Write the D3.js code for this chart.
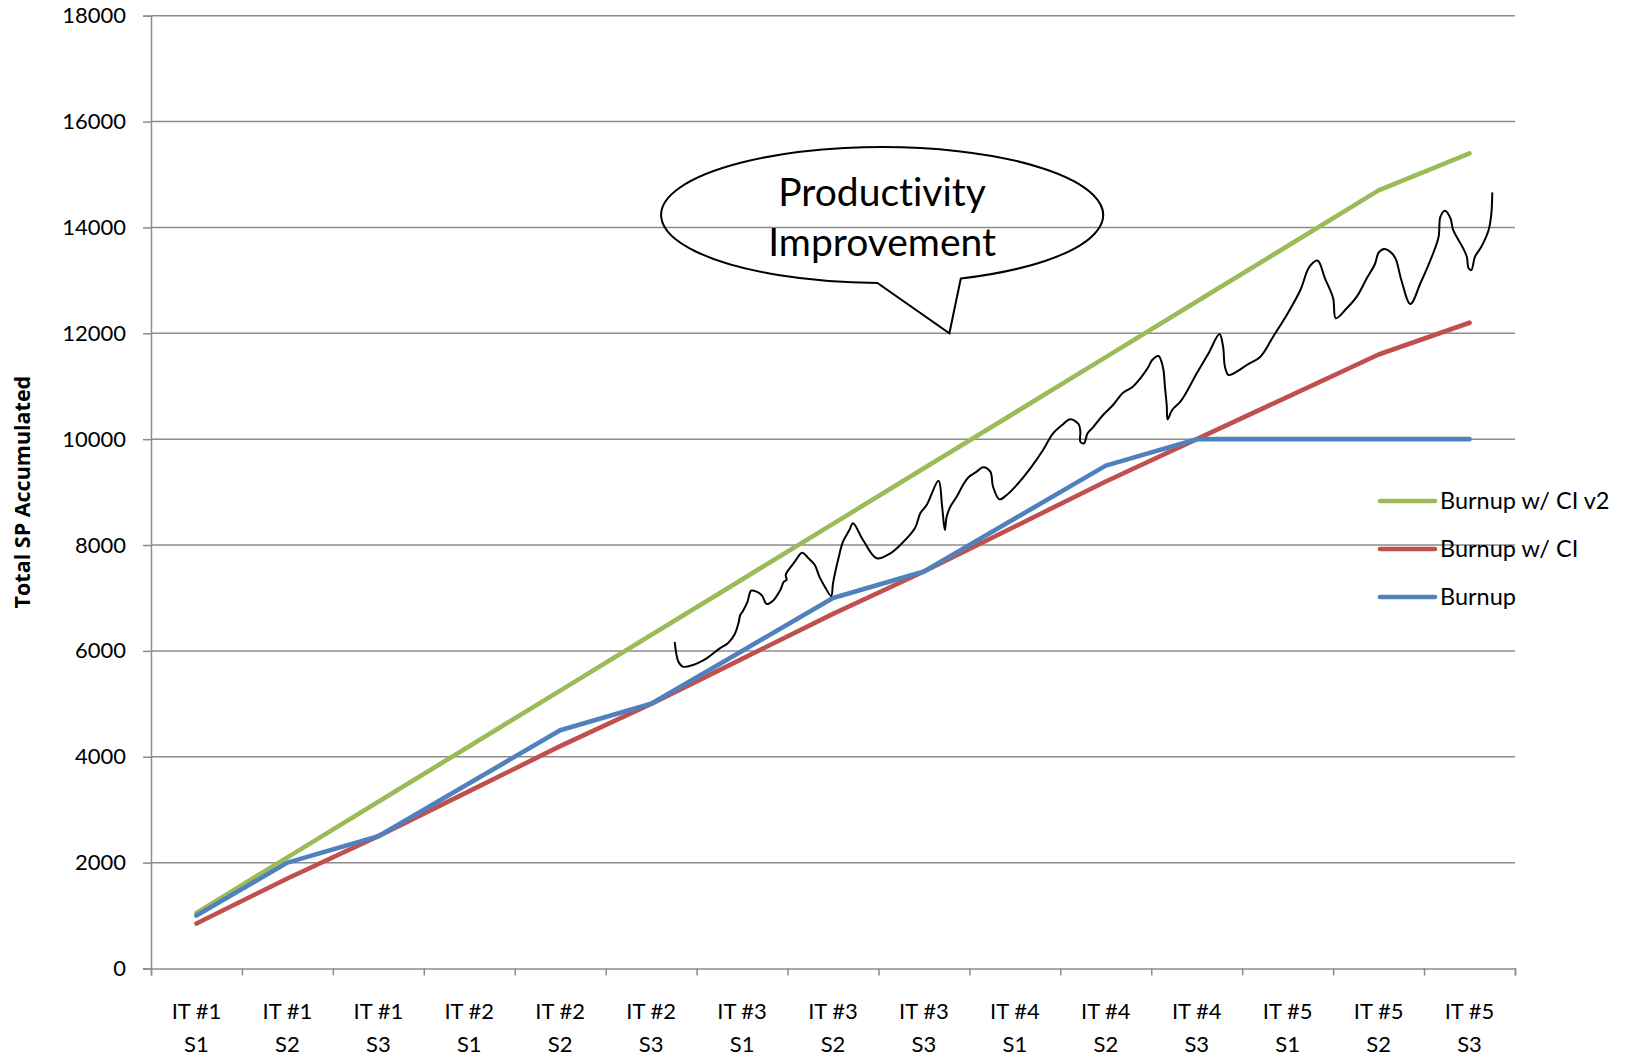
<!DOCTYPE html>
<html>
<head>
<meta charset="utf-8">
<script src="https://cdn.jsdelivr.net/npm/d3@7"></script>
<style>
  html, body { margin: 0; padding: 0; background: #ffffff; }
  svg { display: block; font-family: Lato, "Open Sans", sans-serif; font-variant-ligatures: none; }
</style>
</head>
<body>
<svg id="chart" width="1630" height="1056"></svg>
<script>
// Sprint categories (iteration + sprint)
const categories = [
  "IT #1 S1", "IT #1 S2", "IT #1 S3",
  "IT #2 S1", "IT #2 S2", "IT #2 S3",
  "IT #3 S1", "IT #3 S2", "IT #3 S3",
  "IT #4 S1", "IT #4 S2", "IT #4 S3",
  "IT #5 S1", "IT #5 S2", "IT #5 S3"
];

// Accumulated story points per sprint
const burnupCIv2 = [1050, 2100, 3150, 4200, 5250, 6300, 7350, 8400, 9450, 10500, 11550, 12600, 13650, 14700, 15400];
const burnupCI   = [850, 1700, 2500, 3350, 4200, 5000, 5850, 6700, 7500, 8350, 9200, 10000, 10800, 11600, 12200];
const burnup     = [1000, 2000, 2500, 3500, 4500, 5000, 6000, 7000, 7500, 8500, 9500, 10000, 10000, 10000, 10000];

const yTicks = [0, 2000, 4000, 6000, 8000, 10000, 12000, 14000, 16000, 18000];

// Hand-sketched productivity trend: [sprint position, story points]
const improvementTrend = [
  [5.26, 6155], [5.30, 5796], [5.35, 5702], [5.46, 5734], [5.61, 5860], [5.74, 6030],
  [5.85, 6155], [5.92, 6319], [5.96, 6521], [5.98, 6678], [6.01, 6754], [6.06, 6930],
  [6.10, 7137], [6.16, 7119], [6.22, 7043], [6.27, 6886], [6.34, 6948], [6.42, 7151],
  [6.46, 7307], [6.49, 7340], [6.48, 7434], [6.51, 7528], [6.58, 7685], [6.66, 7855],
  [6.73, 7750], [6.80, 7623], [6.85, 7402], [6.91, 7213], [6.98, 7037], [7.00, 7277],
  [7.06, 7750], [7.11, 8063], [7.18, 8284], [7.22, 8411], [7.33, 8095], [7.48, 7750],
  [7.63, 7844], [7.74, 8001], [7.90, 8316], [7.96, 8600], [8.03, 8756], [8.16, 9215],
  [8.20, 8724], [8.23, 8284], [8.25, 8535], [8.29, 8724], [8.36, 8913], [8.43, 9134],
  [8.49, 9280], [8.58, 9386], [8.65, 9469], [8.73, 9386], [8.76, 9102], [8.83, 8864],
  [8.91, 8945], [9.02, 9134], [9.17, 9450], [9.31, 9796], [9.42, 10111], [9.52, 10268],
  [9.61, 10375], [9.70, 10287], [9.72, 10141], [9.72, 9952], [9.76, 9922], [9.80, 10111],
  [9.86, 10224], [9.97, 10457], [10.08, 10646], [10.19, 10878], [10.29, 10980], [10.38, 11150],
  [10.47, 11369], [10.51, 11496], [10.58, 11571], [10.63, 11345], [10.65, 10991], [10.67, 10646],
  [10.68, 10375], [10.73, 10551], [10.82, 10708], [10.89, 10897], [11.00, 11244], [11.13, 11622],
  [11.25, 11987], [11.29, 11747], [11.31, 11369], [11.35, 11212], [11.44, 11275], [11.55, 11401],
  [11.70, 11558], [11.84, 11936], [11.99, 12346], [12.14, 12818], [12.24, 13258], [12.33, 13372],
  [12.41, 13039], [12.50, 12661], [12.53, 12283], [12.65, 12472], [12.76, 12692], [12.87, 13039],
  [12.96, 13309], [13.00, 13523], [13.06, 13593], [13.14, 13523], [13.19, 13398], [13.25, 13007],
  [13.35, 12554], [13.46, 12945], [13.60, 13512], [13.66, 13825], [13.68, 14203], [13.73, 14316],
  [13.79, 14173], [13.82, 13952], [13.93, 13606], [13.97, 13447], [13.99, 13228], [14.02, 13196],
  [14.06, 13447], [14.13, 13636], [14.21, 13952], [14.24, 14267], [14.25, 14645]
];

const series = [
  { name: "Burnup w/ CI v2", values: burnupCIv2, color: "#9bbb59" },
  { name: "Burnup w/ CI",    values: burnupCI,   color: "#c0504d" },
  { name: "Burnup",          values: burnup,     color: "#4f81bd" }
];

const svg = d3.select("#chart");
const margin = { top: 15.7, right: 115, bottom: 87.5, left: 151 };
const W = 1630, H = 1056;
const plotW = W - margin.left - margin.right;
const plotH = H - margin.top - margin.bottom;
const gridColor = "#8c8c8c";

const g = svg.append("g").attr("transform", `translate(${margin.left},${margin.top})`);

const x = d3.scaleBand().domain(categories).range([0, plotW]).paddingInner(0).paddingOuter(0);
// continuous sprint position, 0 = centre of the first sprint
const xPos = d3.scaleLinear().domain([-0.5, categories.length - 0.5]).range([0, plotW]);
const y = d3.scaleLinear().domain([0, 18000]).range([plotH, 0]);

// horizontal gridlines
g.append("g")
  .selectAll("line")
  .data(yTicks.filter(d => d > 0))
  .join("line")
  .attr("x1", 0).attr("x2", plotW)
  .attr("y1", d => y(d)).attr("y2", d => y(d))
  .attr("stroke", gridColor).attr("stroke-width", 1.5);

// y axis
const yAxis = g.append("g")
  .call(d3.axisLeft(y).tickValues(yTicks).tickSize(8).tickPadding(17).tickFormat(d3.format("d")));
yAxis.select(".domain").attr("stroke", gridColor).attr("stroke-width", 1.5);
yAxis.selectAll(".tick line").attr("stroke", gridColor).attr("stroke-width", 1.5);
yAxis.selectAll(".tick text")
  .attr("font-size", 22).attr("font-family", "Lato, sans-serif").attr("fill", "#000");

// x axis: tick marks on sprint boundaries
const xTickAxis = g.append("g")
  .attr("transform", `translate(0,${plotH})`)
  .call(d3.axisBottom(xPos).tickValues(d3.range(-0.5, categories.length, 1)).tickSize(7).tickFormat(""));
xTickAxis.select(".domain").attr("stroke", gridColor).attr("stroke-width", 1.5);
xTickAxis.selectAll(".tick line").attr("stroke", gridColor).attr("stroke-width", 1.5);

// x axis: two-line sprint labels centred in each band
const xLabelAxis = g.append("g")
  .attr("transform", `translate(0,${plotH})`)
  .call(d3.axisBottom(x).tickSize(0).tickFormat(""));
xLabelAxis.select(".domain").remove();
xLabelAxis.selectAll(".tick").each(function(d) {
  const parts = d.split(" ");
  const sprint = parts.pop();
  const iter = parts.join(" ");
  const t = d3.select(this).append("text")
    .attr("text-anchor", "middle")
    .attr("font-size", 22).attr("font-family", "Lato, sans-serif").attr("fill", "#000");
  t.append("tspan").attr("x", 0).attr("y", 50).text(iter);
  t.append("tspan").attr("x", 0).attr("y", 83.5).text(sprint);
});

// y axis title
svg.append("text")
  .attr("transform", `translate(30,${margin.top + plotH / 2}) rotate(-90)`)
  .attr("text-anchor", "middle")
  .attr("font-size", 21.5).attr("font-weight", "bold")
  .attr("font-family", "'Open Sans', Lato, sans-serif").attr("fill", "#000")
  .text("Total SP Accumulated");

// series lines
const line = d3.line()
  .x((d, i) => x(categories[i]) + x.bandwidth() / 2)
  .y(d => y(d));

g.append("g")
  .selectAll("path")
  .data(series)
  .join("path")
  .attr("d", s => line(s.values))
  .attr("fill", "none")
  .attr("stroke", s => s.color)
  .attr("stroke-width", 4.6)
  .attr("stroke-linejoin", "round")
  .attr("stroke-linecap", "round");

// hand-sketched trend
const sketch = d3.line()
  .x(d => xPos(d[0]))
  .y(d => y(d[1]))
  .curve(d3.curveCatmullRom.alpha(0.5));

g.append("path")
  .attr("d", sketch(improvementTrend))
  .attr("fill", "none")
  .attr("stroke", "#000")
  .attr("stroke-width", 2)
  .attr("stroke-linejoin", "round")
  .attr("stroke-linecap", "round");

// speech-bubble callout pointing at the trend
const bubble = { cx: xPos(7.54), cy: y(14235), rx: 221, ry: 68 };
const tip = [xPos(8.28), y(12000)];
const leftX = bubble.cx - 4.7, rightX = bubble.cx + 78.7;
const yOn = px => bubble.cy + bubble.ry * Math.sqrt(1 - Math.pow((px - bubble.cx) / bubble.rx, 2));
const pathStr = `M${rightX},${yOn(rightX)} L${tip[0]},${tip[1]} L${leftX},${yOn(leftX)} ` +
  `A${bubble.rx},${bubble.ry} 0 1 1 ${rightX},${yOn(rightX)} Z`;
g.append("path")
  .attr("d", pathStr)
  .attr("fill", "none")
  .attr("stroke", "#000")
  .attr("stroke-width", 2)
  .attr("stroke-linejoin", "miter");

const calloutText = g.append("text")
  .attr("text-anchor", "middle")
  .attr("font-size", 39).attr("font-family", "Lato, sans-serif").attr("fill", "#000");
calloutText.append("tspan").attr("x", bubble.cx).attr("y", bubble.cy - 9).text("Productivity");
calloutText.append("tspan").attr("x", bubble.cx).attr("y", bubble.cy + 41).text("Improvement");

// legend
const legend = svg.append("g").attr("transform", "translate(1380,501)");
const item = legend.selectAll("g")
  .data(series)
  .join("g")
  .attr("transform", (d, i) => `translate(0,${i * 48})`);
item.append("line")
  .attr("x1", 0).attr("x2", 55).attr("y1", 0).attr("y2", 0)
  .attr("stroke", d => d.color).attr("stroke-width", 4.6).attr("stroke-linecap", "round");
item.append("text")
  .attr("x", 60).attr("y", 0).attr("dy", "0.35em")
  .attr("font-size", 23.5).attr("font-family", "Lato, sans-serif").attr("fill", "#000")
  .text(d => d.name);
</script>
</body>
</html>
